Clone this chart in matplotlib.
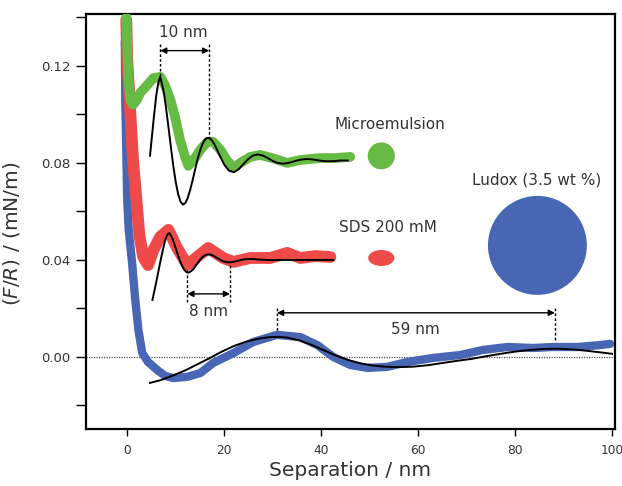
import matplotlib
matplotlib.use('Agg')
import matplotlib.pyplot as plt
from matplotlib.patches import Ellipse
from matplotlib.ticker import FixedLocator

''' Measured data (read off the figure) '''
# Microemulsion
green_x = [-0.2, 0.0, 0.2, 0.6, 1.2, 2.0, 2.7, 4.1, 5.4, 6.8, 7.8, 8.9, 9.9, 10.9,
           12.0, 12.6, 13.6, 15.1, 16.5, 17.7, 19.2, 20.6, 21.9, 23.3, 25.4, 27.4,
           29.9, 33.0, 35.7, 39.8, 42.9, 46.0]
green_y = [0.140, 0.128, 0.116, 0.106, 0.104, 0.106, 0.109, 0.112, 0.115, 0.1155,
           0.112, 0.106, 0.0986, 0.0895, 0.082, 0.0788, 0.081, 0.0854, 0.0887,
           0.0887, 0.0854, 0.081, 0.078, 0.080, 0.0825, 0.0833, 0.082, 0.080,
           0.0812, 0.082, 0.082, 0.0825]

# SDS 200 mM
red_x = [-0.2, 0.0, 0.6, 1.2, 1.9, 2.5, 3.3, 4.3, 5.4, 6.8, 8.5, 10.3, 12.4, 14.4,
         16.7, 19.8, 21.9, 25.4, 29.5, 33.0, 35.7, 38.8, 41.9]
red_y = [0.139, 0.1225, 0.102, 0.081, 0.0647, 0.0503, 0.0412, 0.0379, 0.0441,
         0.0495, 0.0524, 0.0449, 0.0379, 0.0412, 0.0449, 0.0408, 0.0392, 0.0408,
         0.0408, 0.0429, 0.0408, 0.0416, 0.0412]

# Ludox (3.5 wt %)
blue_x = [-0.5, -0.4, -0.2, 0.0, 0.3, 1.0, 1.6, 2.3, 3.1, 4.3, 6.2, 7.8, 9.5, 12.4,
          15.1, 17.7, 21.9, 26.0, 30.9, 35.7, 39.2, 42.5, 46.0, 49.5, 53.6, 57.7,
          63.1, 68.7, 73.4, 78.4, 83.7, 87.8, 92.8, 97.5, 99.6]
blue_y = [0.130, 0.106, 0.0854, 0.0647, 0.0524, 0.0388, 0.0247, 0.0111, 0.0016,
          -0.0021, -0.0054, -0.0078, -0.0087, -0.0082, -0.0066, -0.0025, 0.0016,
          0.0062, 0.0091, 0.0082, 0.0049, 0.0, -0.0033, -0.0045, -0.0041, -0.0021,
          -0.0004, 0.0008, 0.0029, 0.0041, 0.0037, 0.0041, 0.0041, 0.0049, 0.0054]

''' Fits (read off the figure) '''
gfit_x = [4.7, 5.0, 5.5, 6.0, 6.4, 6.8, 7.5, 8.0, 8.5, 9.0, 9.5, 10.0, 10.5, 11.0,
          11.5, 12.0, 12.5, 13.0, 13.5, 14.0, 14.5, 15.0, 15.5, 16.0, 16.5, 17.0,
          17.5, 18.0, 19.0, 20.0, 21.0, 22.0, 23.0, 24.0, 25.0, 26.0, 27.0, 28.0,
          29.0, 30.0, 31.0, 32.0, 33.0, 34.0, 35.0, 36.0, 37.0, 38.0, 39.0, 40.0,
          41.0, 42.0, 43.0, 44.0, 45.5]
gfit_y = [0.083, 0.089, 0.099, 0.108, 0.113, 0.1155, 0.1096, 0.1028, 0.0948, 0.0866,
          0.0788, 0.0721, 0.0671, 0.0640, 0.0628, 0.0635, 0.0657, 0.0690, 0.0730,
          0.0773, 0.0814, 0.0850, 0.0877, 0.0895, 0.0903, 0.0902, 0.0892, 0.0876,
          0.0834, 0.0793, 0.0768, 0.0762, 0.0774, 0.0796, 0.0817, 0.0831, 0.0835,
          0.0830, 0.0820, 0.0808, 0.0800, 0.0797, 0.0799, 0.0804, 0.0810, 0.0814,
          0.0816, 0.0815, 0.0812, 0.0809, 0.0807, 0.0807, 0.0808, 0.0810, 0.0810]

rfit_x = [5.2, 6.0, 7.0, 7.8, 8.3, 8.7, 9.2, 9.7, 10.2, 10.7, 11.2, 11.7, 12.2, 12.7,
          13.2, 13.7, 14.2, 14.7, 15.2, 15.7, 16.2, 16.7, 17.2, 17.7, 18.7, 19.7,
          20.7, 21.7, 22.7, 23.7, 24.7, 25.7, 27.7, 29.7, 32.0, 35.0, 38.0, 42.5]
rfit_y = [0.0235, 0.031, 0.041, 0.048, 0.0505, 0.0511, 0.0494, 0.0467, 0.0436,
          0.0406, 0.0380, 0.0361, 0.0350, 0.0348, 0.0354, 0.0364, 0.0378, 0.0392,
          0.0405, 0.0415, 0.0421, 0.0423, 0.0422, 0.0418, 0.0406, 0.0395, 0.0390,
          0.0391, 0.0396, 0.0401, 0.0404, 0.0404, 0.0401, 0.0399, 0.0400, 0.0400,
          0.0400, 0.0400]

bfit_x = [4.7, 7.0, 9.5, 12.0, 14.5, 17.0, 19.5, 22.0, 24.5, 27.0, 29.0, 31.0, 33.0,
          35.5, 38.0, 40.5, 43.0, 45.5, 48.0, 50.5, 53.0, 56.0, 59.0, 62.0, 65.0,
          68.0, 71.0, 74.0, 77.0, 80.0, 83.0, 86.0, 89.0, 92.0, 95.0, 98.0, 100.0]
bfit_y = [-0.0107, -0.0095, -0.0076, -0.0055, -0.0030, -0.0005, 0.0022, 0.0045,
          0.0063, 0.0075, 0.0081, 0.0083, 0.0080, 0.0068, 0.0050, 0.0028, 0.0006,
          -0.0012, -0.0026, -0.0035, -0.0040, -0.0042, -0.0040, -0.0034, -0.0025,
          -0.0016, -0.0008, 0.0003, 0.0013, 0.0022, 0.0029, 0.0033, 0.0034, 0.0031,
          0.0025, 0.0018, 0.0013]

''' Legend-like labels: text position, marker position, marker size (data units) '''
labels = ['Microemulsion', 'SDS 200 mM', 'Ludox (3.5 wt %)']
label_xy = [(54.2, 0.0957), (53.8, 0.0532), (84.5, 0.0730)]
dot_xy = [(52.4, 0.0829), (52.4, 0.0408), (84.6, 0.0460)]
dot_wh = [(5.6, 0.0111), (5.4, 0.0066), (20.4, 0.0408)]

GREEN = '#66bb44'
RED = '#ee4a4a'
BLUE = '#4866b4'
colors = [GREEN, RED, BLUE]
TXT = '#333333'

fig = plt.figure(figsize=(6.22, 4.86), dpi=100)
ax = fig.add_axes([0.1383, 0.1173, 0.8504, 0.8539])

ax.axhline(0, color='#555555', lw=0.9, ls=(0, (1, 1)), zorder=1)

ax.plot(blue_x, blue_y, color=BLUE, lw=6, solid_capstyle='round', solid_joinstyle='round', zorder=2)
ax.plot(red_x, red_y, color=RED, lw=8.5, solid_capstyle='round', solid_joinstyle='round', zorder=3)
ax.plot(green_x, green_y, color=GREEN, lw=7, solid_capstyle='round', solid_joinstyle='round', zorder=4)

for fx, fy in [(gfit_x, gfit_y), (rfit_x, rfit_y), (bfit_x, bfit_y)]:
	ax.plot(fx, fy, color='black', lw=1.4, zorder=5)

for lab, (tx, ty), (dx, dy), (w, h), c in zip(labels, label_xy, dot_xy, dot_wh, colors):
	ax.text(tx, ty, lab, ha='center', va='center', fontsize=11, color=TXT)
	ax.add_patch(Ellipse((dx, dy), w, h, color=c, lw=0, zorder=4))

''' Period annotations '''
def period(x1, x2, y_arrow, y_top, y1, y2, text, tx, ty):
	ax.plot([x1, x1], [y_top, y1], color='black', lw=1, ls=(0, (2, 1.5)), zorder=6)
	ax.plot([x2, x2], [y_top, y2], color='black', lw=1, ls=(0, (2, 1.5)), zorder=6)
	ax.annotate('', xy=(x2, y_arrow), xytext=(x1, y_arrow),
		arrowprops=dict(arrowstyle='<|-|>', color='black', lw=1, mutation_scale=9,
		shrinkA=0, shrinkB=0), zorder=6)
	ax.text(tx, ty, text, ha='center', va='center', fontsize=11, color=TXT)

period(6.8, 16.9, 0.1263, 0.1290, 0.1155, 0.0899, '10 nm', 11.5, 0.1336)
period(12.4, 21.2, 0.0260, 0.0227, 0.0360, 0.0388, '8 nm', 16.7, 0.0186)
period(30.9, 88.2, 0.0182, 0.0202, 0.0105, 0.0070, '59 nm', 59.4, 0.0115)

ax.set_xlim(-8.5, 100.6)
ax.set_ylim(-0.0297, 0.1414)
ax.set_xticks([0, 20, 40, 60, 80, 100])
ax.set_yticks([0.0, 0.04, 0.08, 0.12])
ax.set_yticklabels(['0.00', '0.04', '0.08', '0.12'])
ax.yaxis.set_minor_locator(FixedLocator([-0.02, 0.02, 0.06, 0.10, 0.14]))
ax.tick_params(axis='y', which='both', direction='out', length=7, width=1, labelsize=9.5, labelcolor=TXT, pad=4)
ax.tick_params(axis='x', direction='out', length=5, width=1, labelsize=8.8, labelcolor=TXT, pad=6)
for s in ax.spines.values():
	s.set_linewidth(1.6)

ax.set_xlabel('Separation / nm', fontsize=14.5, color=TXT, labelpad=3)
ax.set_ylabel(r'($\it{F/R}$) / (mN/m)', fontsize=14.5, color=TXT)
ax.yaxis.set_label_coords(-0.121, 0.47)

fig.savefig('out.png', dpi=100)
